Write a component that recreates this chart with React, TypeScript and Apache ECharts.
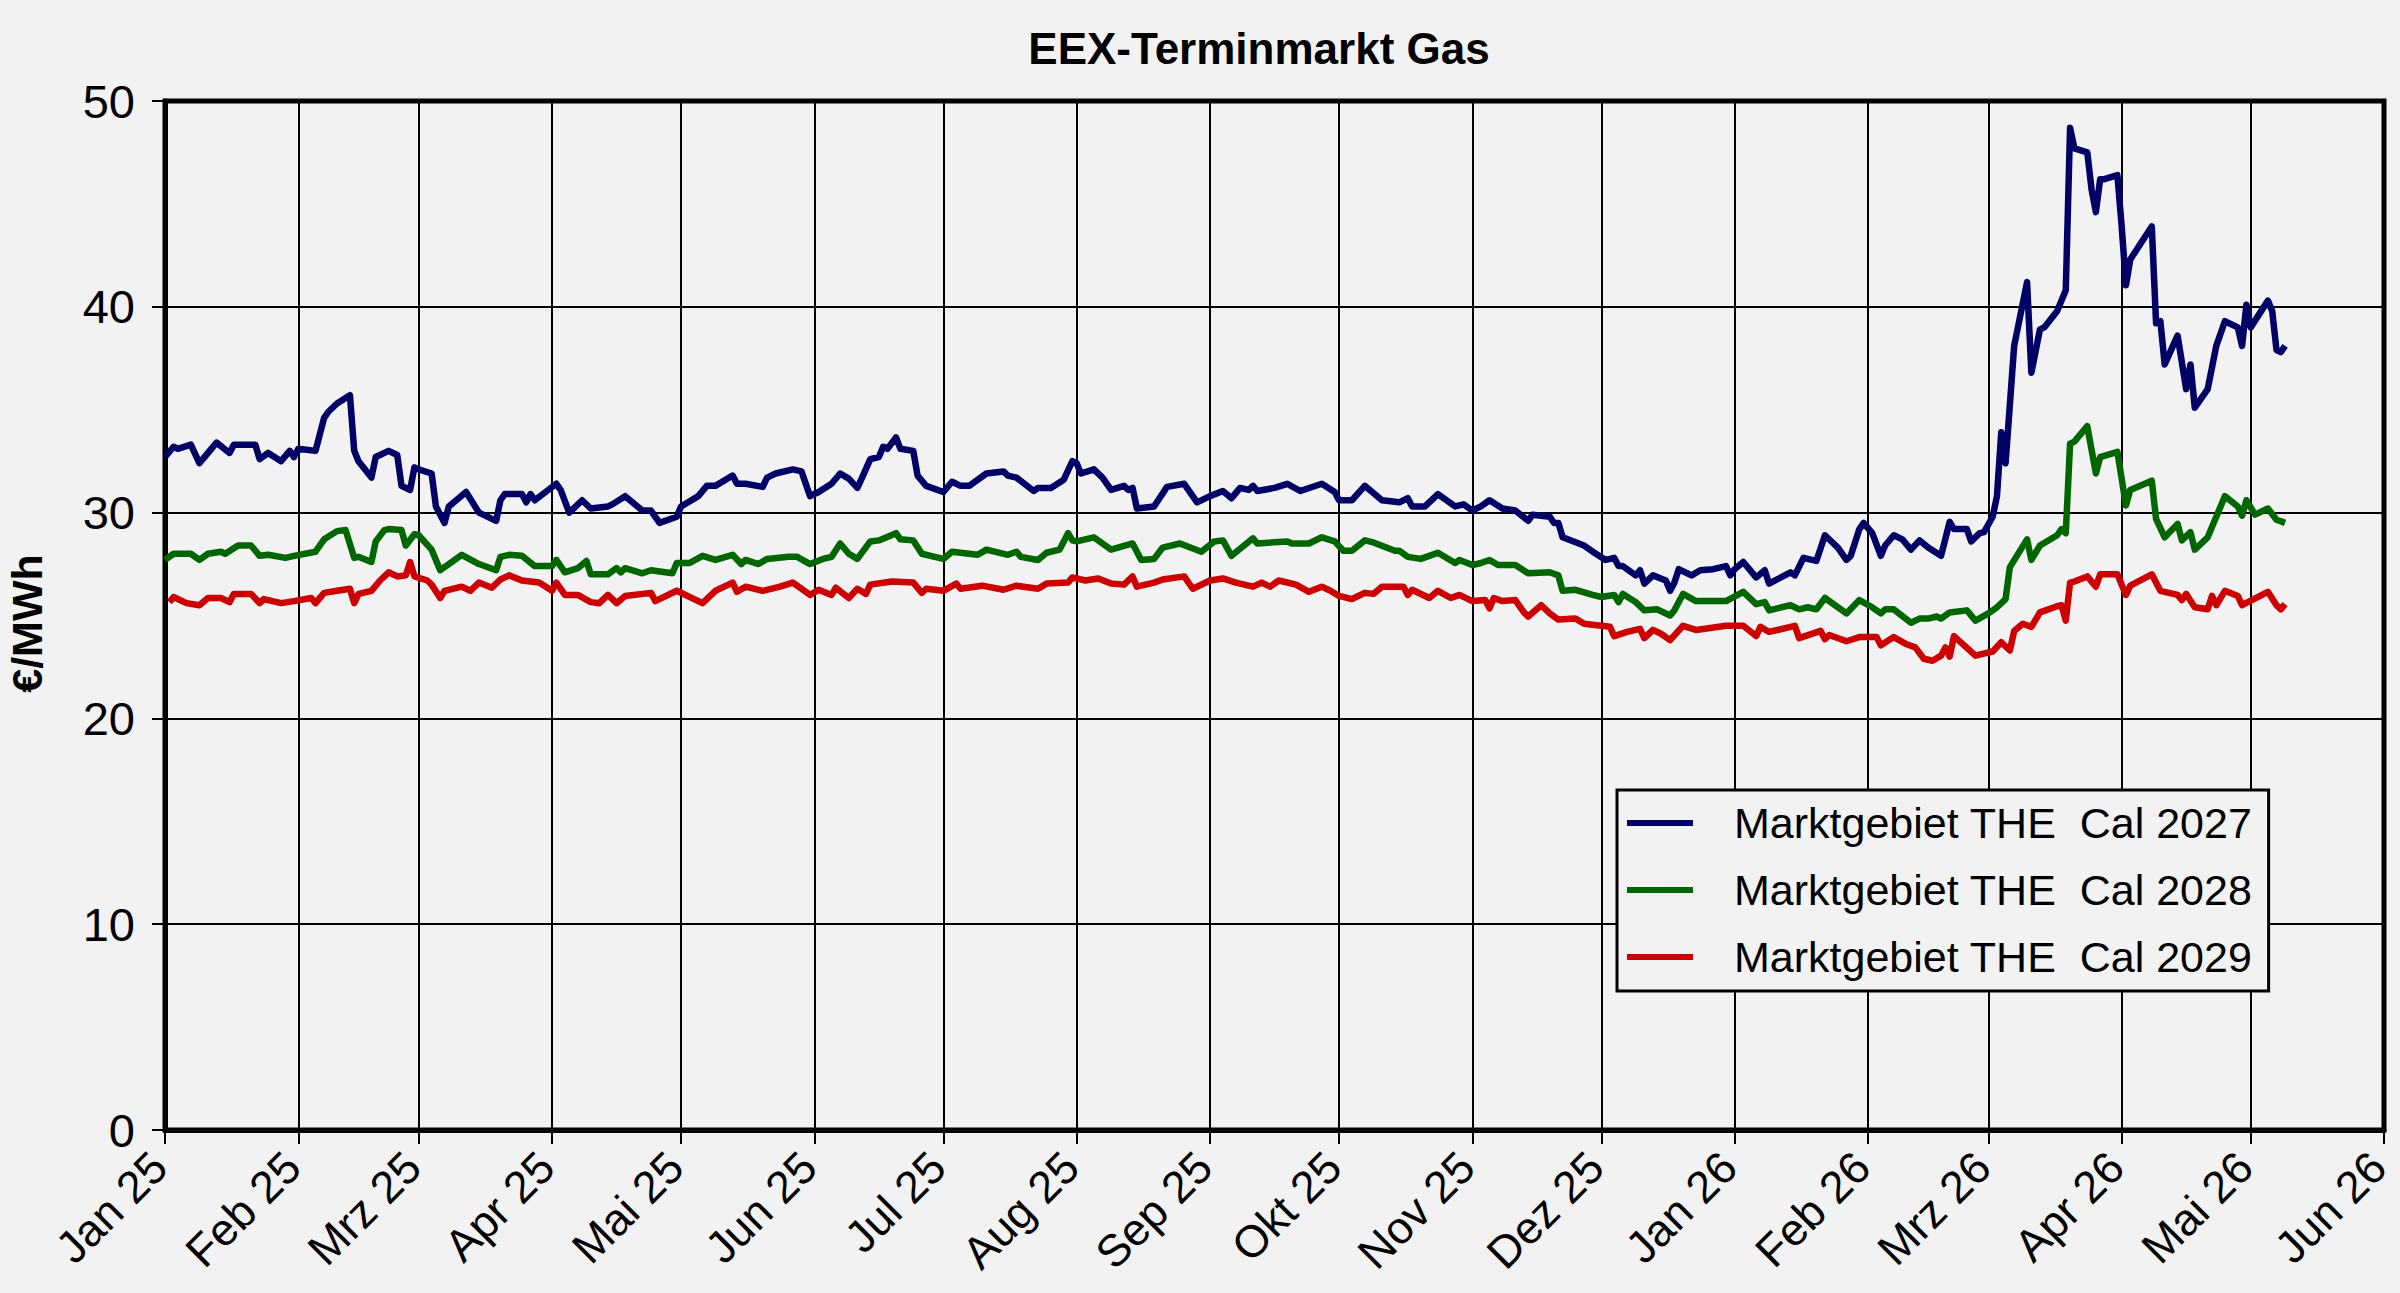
import React, { useEffect, useRef } from "react";
import * as echarts from "echarts";

// Axis categories: one per calendar day from 2025-01-01 to 2026-06-01
const START_YEAR = 2025;
const DAY_COUNT = 517;
const MONTH_LABELS = ["Jan", "Feb", "Mrz", "Apr", "Mai", "Jun", "Jul", "Aug", "Sep", "Okt", "Nov", "Dez"];
const Y_TICKS = [0, 10, 20, 30, 40, 50];

const SERIES_NAMES = [
  "Marktgebiet THE  Cal 2027",
  "Marktgebiet THE  Cal 2028",
  "Marktgebiet THE  Cal 2029",
];
const SERIES_COLORS = ["#000066", "#006600", "#cc0000"];

// [day index since 2025-01-01, €/MWh]
const cal2027: [number, number][] = [
  [0,32.7],[2,33.2],[3,33.1],[6,33.3],[8,32.4],[10,32.9],[12,33.4],[15,32.9],[16,33.3],[21,33.3],[22,32.6],[24,32.9],[27,32.5],[29,33.0],[30,32.7],[31,33.1],[35,33.0],[37,34.6],[38,34.9],[40,35.3],[43,35.7],[44,33.0],[45,32.5],[48,31.7],[49,32.7],[52,33.0],[54,32.8],[55,31.3],[57,31.1],[58,32.2],[59,32.1],[62,31.9],[63,30.3],[65,29.5],[66,30.3],[70,31.0],[73,30.0],[77,29.6],[78,30.6],[79,30.9],[83,30.9],[84,30.5],[85,30.9],[86,30.6],[91,31.4],[92,31.1],[94,30.0],[97,30.6],[99,30.2],[103,30.3],
  [104,30.4],[107,30.8],[111,30.1],[113,30.1],[115,29.5],[119,29.8],[120,30.3],[124,30.8],[126,31.3],[128,31.3],[132,31.8],[133,31.4],[135,31.4],[139,31.25],[140,31.7],[142,31.9],[146,32.1],[148,32.0],[150,30.8],[152,31.0],[155,31.4],[157,31.9],[159,31.65],[161,31.2],[162,31.65],[164,32.6],[166,32.7],[167,33.2],[168,33.1],[170,33.65],[171,33.1],[174,33.0],[175,31.8],[177,31.3],[181,31.0],[183,31.5],[185,31.3],[187,31.3],[191,31.9],[195,32.0],[196,31.8],[198,31.7],[202,31.05],[203,31.2],
  [206,31.2],[209,31.6],[211,32.5],[212,32.4],[213,31.9],[216,32.1],[218,31.7],[220,31.1],[223,31.3],[224,31.1],[225,31.2],[226,30.2],[230,30.3],[233,31.25],[237,31.4],[240,30.5],[243,30.8],[246,31.05],[248,30.7],[250,31.2],[252,31.1],[253,31.3],[254,31.05],[258,31.2],[261,31.4],[264,31.05],[269,31.4],[272,31.0],[273,30.6],[276,30.6],[279,31.3],[283,30.6],[287,30.5],[289,30.7],[290,30.3],[293,30.3],[296,30.9],[300,30.3],[302,30.4],[304,30.1],
  [306,30.3],[308,30.6],[311,30.2],[314,30.1],[317,29.6],[318,29.9],[322,29.8],[323,29.5],[324,29.5],[325,28.8],[330,28.4],[332,28.1],[335,27.7],[337,27.8],[338,27.4],[339,27.4],[342,26.95],[343,27.2],[344,26.55],[346,26.95],[349,26.7],[350,26.2],[351,26.6],[352,27.25],[355,26.95],[357,27.2],[360,27.25],[363,27.4],[364,26.95],[365,27.25],[367,27.6],[370,26.85],[372,27.2],[373,26.55],[378,27.1],[379,26.95],[381,27.8],[384,27.65],[386,28.9],[389,28.3],[391,27.7],[392,27.9],[394,29.2],[395,29.5],[397,29.0],[399,27.9],[400,28.4],[402,28.9],[404,28.7],[406,28.2],[408,28.65],[410,28.3],
  [413,27.9],[415,29.55],[416,29.2],[419,29.2],[420,28.6],[422,29.0],[423,29.05],[425,29.8],[426,30.8],[427,33.9],[428,32.4],[430,38.1],[433,41.2],[434,36.8],[436,38.9],[437,39.0],[440,39.8],[442,40.8],[443,48.7],[444,47.7],[447,47.5],[448,45.7],[449,44.6],[450,46.2],[451,46.2],[454,46.4],[455,43.9],[456,41.05],[457,42.3],[462,43.9],[463,39.2],[464,39.3],[465,37.2],[468,38.6],[470,36.0],[471,37.2],[472,35.1],[475,36.0],[477,38.1],[479,39.3],[482,39.0],[483,38.1],[484,40.1],[485,39.0],[489,40.3],[490,39.8],[491,37.9],[492,37.8],[493,38.1],
];

const cal2028: [number, number][] = [
  [0,27.7],[2,28.0],[6,28.0],[8,27.7],[10,28.0],[13,28.1],[14,28.0],[17,28.4],[20,28.4],[22,27.9],[24,27.95],[28,27.8],[30,27.9],[35,28.1],[37,28.7],[40,29.1],[42,29.15],[44,27.8],[45,27.85],[48,27.6],[49,28.6],[51,29.15],[52,29.2],[55,29.15],[56,28.4],[58,28.95],[59,28.9],[62,28.2],[64,27.2],[66,27.5],[69,27.95],[73,27.5],[77,27.2],[78,27.85],[80,27.95],[83,27.9],[86,27.4],[90,27.4],[91,27.7],[93,27.1],[96,27.3],[98,27.65],[99,27.0],[103,27.0],
  [105,27.3],[106,27.1],[107,27.3],[111,27.05],[113,27.2],[118,27.05],[119,27.55],[122,27.55],[125,27.9],[128,27.7],[132,27.95],[134,27.5],[135,27.7],[138,27.5],[140,27.75],[145,27.85],[147,27.85],[150,27.5],[153,27.75],[155,27.85],[157,28.5],[159,28.0],[161,27.75],[164,28.6],[166,28.65],[170,29.0],[171,28.7],[174,28.65],[176,28.0],[179,27.85],[181,27.75],[183,28.1],[189,27.95],[191,28.2],[196,27.95],[198,28.1],[199,27.85],[203,27.7],
  [205,28.05],[208,28.2],[210,29.0],[211,28.65],[212,28.6],[216,28.8],[220,28.2],[225,28.5],[227,27.7],[230,27.75],[232,28.3],[236,28.5],[241,28.1],[244,28.6],[246,28.65],[248,27.9],[253,28.75],[254,28.5],[261,28.6],[262,28.5],[266,28.5],[269,28.8],[272,28.6],[274,28.15],[276,28.15],[279,28.65],[281,28.55],[286,28.15],[287,28.15],[289,27.85],[292,27.75],[294,27.9],[296,28.05],[300,27.55],[301,27.7],[304,27.45],[306,27.55],
  [308,27.7],[310,27.45],[314,27.45],[317,27.05],[322,27.1],[324,26.95],[325,26.2],[328,26.25],[332,26.0],[334,25.9],[337,26.0],[338,25.65],[339,26.05],[342,25.65],[344,25.25],[347,25.3],[350,25.0],[351,25.25],[353,26.05],[356,25.7],[363,25.7],[367,26.15],[370,25.55],[372,25.65],[373,25.25],[378,25.5],[380,25.3],[382,25.4],[384,25.3],[386,25.85],[391,25.1],[394,25.75],[397,25.4],[399,25.1],[400,25.3],[402,25.3],[406,24.65],[408,24.85],[410,24.85],
  [412,24.95],[413,24.85],[415,25.15],[419,25.25],[421,24.75],[424,25.1],[426,25.4],[428,25.8],[429,27.35],[433,28.7],[434,27.7],[436,28.4],[440,28.9],[441,29.2],[442,29.0],[443,33.35],[444,33.45],[447,34.2],[449,31.9],[450,32.7],[454,32.95],[456,30.35],[457,31.1],[462,31.55],[463,29.7],[465,28.8],[468,29.45],[469,28.65],[471,29.05],[472,28.2],[475,28.8],[477,29.8],[479,30.8],[482,30.3],[483,29.85],[484,30.6],[486,29.9],[489,30.2],[491,29.65],[493,29.5],
];

const cal2029: [number, number][] = [
  [1,25.65],[2,25.9],[5,25.6],[8,25.5],[10,25.85],[13,25.85],[15,25.65],[16,26.05],[20,26.05],[22,25.6],[23,25.8],[27,25.6],[30,25.7],[34,25.85],[35,25.6],[37,26.1],[40,26.2],[43,26.3],[44,25.6],[45,26.05],[48,26.2],[50,26.7],[52,27.1],[54,26.9],[56,26.95],[57,27.6],[58,26.9],[61,26.7],[62,26.5],[64,25.85],[65,26.2],[69,26.4],[71,26.2],[73,26.6],[76,26.35],[78,26.75],[80,26.95],[83,26.7],[87,26.6],[90,26.2],[91,26.6],[93,26.0],[96,26.0],[99,25.65],[101,25.6],[103,26.0],
  [105,25.6],[107,25.95],[113,26.1],[114,25.7],[119,26.2],[125,25.6],[128,26.2],[132,26.6],[133,26.15],[135,26.4],[139,26.2],[143,26.4],[146,26.6],[150,26.0],[152,26.25],[155,26.0],[156,26.35],[159,25.85],[161,26.3],[163,26.05],[164,26.5],[169,26.65],[174,26.6],[176,26.1],[177,26.3],[181,26.2],[184,26.55],[185,26.3],[190,26.45],[195,26.25],[198,26.45],[203,26.3],
  [205,26.55],[210,26.6],[211,26.85],[214,26.7],[217,26.8],[220,26.55],[223,26.5],[225,26.9],[226,26.4],[230,26.6],[232,26.75],[237,26.9],[239,26.3],[243,26.7],[246,26.8],[249,26.6],[253,26.4],[255,26.6],[257,26.4],[259,26.7],[263,26.5],[266,26.15],[269,26.4],[271,26.2],[273,25.95],[276,25.8],[279,26.1],[281,26.05],[283,26.4],[288,26.4],[289,26.0],[290,26.25],[294,25.85],[296,26.2],[299,25.85],[301,26.0],[304,25.7],[307,25.75],
  [308,25.35],[309,25.85],[311,25.7],[314,25.75],[316,25.15],[317,24.95],[320,25.5],[322,25.1],[324,24.8],[328,24.85],[330,24.6],[336,24.45],[337,24.0],[340,24.2],[343,24.35],[344,23.9],[346,24.3],[348,24.1],[350,23.8],[353,24.5],[356,24.3],[363,24.5],[367,24.5],[370,24.0],[371,24.45],[373,24.2],[379,24.5],[380,23.9],[385,24.25],[386,23.85],[387,24.05],[391,23.75],[394,23.95],[398,23.95],[399,23.55],[402,23.95],[405,23.6],[407,23.45],
  [409,22.9],[411,22.8],[413,23.05],[414,23.45],[415,23.0],[416,24.0],[421,23.05],[425,23.25],[427,23.7],[429,23.3],[430,24.25],[432,24.6],[434,24.45],[436,25.15],[440,25.45],[441,25.5],[442,24.75],[443,26.6],[444,26.65],[447,26.9],[449,26.4],[450,27.0],[454,27.0],[456,26.0],[457,26.45],[462,27.0],[464,26.2],[468,26.0],[469,25.75],[470,26.05],[472,25.4],[475,25.3],[476,25.95],[477,25.5],[479,26.2],[482,25.95],[483,25.5],[489,26.15],[491,25.5],[492,25.3],[493,25.55],
];

const SERIES_DATA = [cal2027, cal2028, cal2029];

function buildDates(): string[] {
  const out: string[] = [];
  const t0 = Date.UTC(START_YEAR, 0, 1);
  for (let i = 0; i < DAY_COUNT; i++) {
    const d = new Date(t0 + i * 86400000);
    const y = d.getUTCFullYear();
    const m = String(d.getUTCMonth() + 1).padStart(2, "0");
    const dd = String(d.getUTCDate()).padStart(2, "0");
    out.push(`${y}-${m}-${dd}`);
  }
  return out;
}

const FONT = "'Liberation Sans', Arial, sans-serif";

export default function App() {
  const ref = useRef<HTMLDivElement>(null);

  useEffect(() => {
    document.body.style.margin = "0";
    document.body.style.background = "#f2f2f2";
    if (!ref.current) return;
    const chart = echarts.init(ref.current, undefined, { renderer: "svg" });
    const dates = buildDates();
    const isMonthStart = (_i: number, v: string) => typeof v === "string" && v.endsWith("-01");

    chart.setOption({
      animation: false,
      backgroundColor: "#f2f2f2",
      title: {
        text: "EEX-Terminmarkt Gas",
        left: 1254,
        textAlign: "center",
        top: 21,
        textStyle: { fontFamily: FONT, fontSize: 44, fontWeight: "bold", color: "#000" },
      },
      legend: {
        orient: "vertical",
        left: 1617,
        top: 790,
        data: SERIES_NAMES,
        icon: "rect",
        itemWidth: 66,
        itemHeight: 6,
        itemGap: 23,
        padding: [11, 16, 12, 10],
        backgroundColor: "#f2f2f2",
        borderColor: "#000",
        borderWidth: 3,
        textStyle: {
          fontFamily: FONT,
          fontSize: 43,
          lineHeight: 44,
          color: "#000",
          padding: [0, 0, 0, 36],
        },
      },
      grid: {
        left: 165,
        right: 16,
        top: 101,
        bottom: 163,
        containLabel: false,
        outerBoundsMode: "none",
        show: true,
        borderColor: "#000",
        borderWidth: 5,
        backgroundColor: "transparent",
      },
      xAxis: {
        type: "category",
        data: dates,
        boundaryGap: false,
        axisLine: { show: true, lineStyle: { color: "#000", width: 5 } },
        axisTick: {
          show: true,
          interval: isMonthStart,
          length: 14,
          lineStyle: { color: "#000", width: 2 },
        },
        splitLine: {
          show: true,
          interval: isMonthStart,
          lineStyle: { color: "#000", width: 2 },
        },
        axisLabel: {
          interval: isMonthStart,
          rotate: 45,
          margin: 24,
          padding: [0, 8, 0, 0],
          fontFamily: FONT,
          fontSize: 45,
          color: "#000",
          formatter: (v: string) => {
            const m = parseInt(v.slice(5, 7), 10) - 1;
            return `${MONTH_LABELS[m]} ${v.slice(2, 4)}`;
          },
        },
      },
      yAxis: {
        type: "value",
        min: Y_TICKS[0],
        max: Y_TICKS[Y_TICKS.length - 1],
        interval: 10,
        name: "€/MWh",
        nameLocation: "middle",
        nameRotate: 90,
        nameGap: 117,
        nameTextStyle: {
          fontFamily: FONT,
          fontSize: 43,
          fontWeight: "bold",
          color: "#000",
          padding: [0, 16, 0, 0],
        },
        axisLine: { show: true, lineStyle: { color: "#000", width: 5 } },
        axisTick: { show: true, length: 13, lineStyle: { color: "#000", width: 2 } },
        splitLine: { show: true, lineStyle: { color: "#000", width: 2 } },
        axisLabel: { margin: 30, fontFamily: FONT, fontSize: 47, color: "#000" },
      },
      series: SERIES_NAMES.map((name, i) => ({
        name,
        type: "line",
        data: SERIES_DATA[i],
        showSymbol: false,
        symbol: "none",
        color: SERIES_COLORS[i],
        lineStyle: { color: SERIES_COLORS[i], width: 6.5, join: "round" },
        z: 3 + i,
      })),
    });

    return () => chart.dispose();
  }, []);

  return <div ref={ref} style={{ width: 2400, height: 1293 }} />;
}
